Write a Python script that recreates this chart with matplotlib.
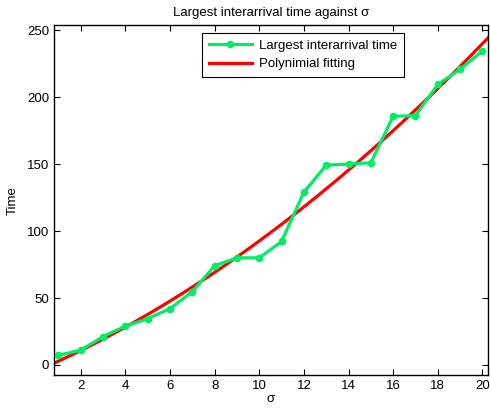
import numpy as np
from matplotlib import pyplot as plt

plt.rcParams['font.family'] = ['Liberation Sans', 'DejaVu Sans']

# dados
sigma = [1, 2, 3, 4, 5, 6, 7, 8, 9, 10, 11, 12, 13, 14, 15, 16, 17, 18, 19, 20]
tempo = [7.2, 11.0, 21.2, 29.0, 34.5, 42.0, 54.7, 74.1, 80.0, 80.0,
         92.2, 129.0, 149.2, 150.0, 151.0, 185.7, 186.2, 209.5, 220.7, 234.5]
xticks = [2, 4, 6, 8, 10, 12, 14, 16, 18, 20]
yticks = [0, 50, 100, 150, 200, 250]

fig = plt.figure(figsize=(4.9, 4.11), dpi=100)
ax = fig.add_axes([0.110, 0.0876, 0.886, 0.851])

# ajuste polinomial de grau 2
coef = np.polyfit(sigma, tempo, 2)
xf = np.linspace(0.8, 20.25, 200)
yf = np.polyval(coef, xf)

ax.plot(sigma, tempo, color='#00ee66', lw=2.3, marker='o', ms=4.5,
        label='Largest interarrival time', zorder=3)
ax.plot(xf, yf, color='red', lw=2.3, label='Polynimial fitting', zorder=2)

ax.set_xlim(0.8, 20.25)
ax.set_ylim(-7.5, 253.7)
ax.set_xticks(xticks)
ax.set_yticks(yticks)
ax.tick_params(direction='in', top=True, right=True, labelsize=9.5, length=4, width=0.8)
for s in ax.spines.values():
    s.set_linewidth(1.0)

ax.set_title('Largest interarrival time against σ', fontsize=9.5, pad=7)
ax.set_xlabel('σ', fontsize=9.5, labelpad=1)
ax.set_ylabel('Time', fontsize=9.5, labelpad=6)

leg = ax.legend(loc='upper left', bbox_to_anchor=(0.341, 0.977), borderaxespad=0,
                fontsize=9.5, fancybox=False, edgecolor='black', framealpha=1,
                handlelength=3.3, handletextpad=0.5, borderpad=0.5, labelspacing=0.45)
leg.get_frame().set_linewidth(0.8)

fig.savefig('out.png', dpi=100)
